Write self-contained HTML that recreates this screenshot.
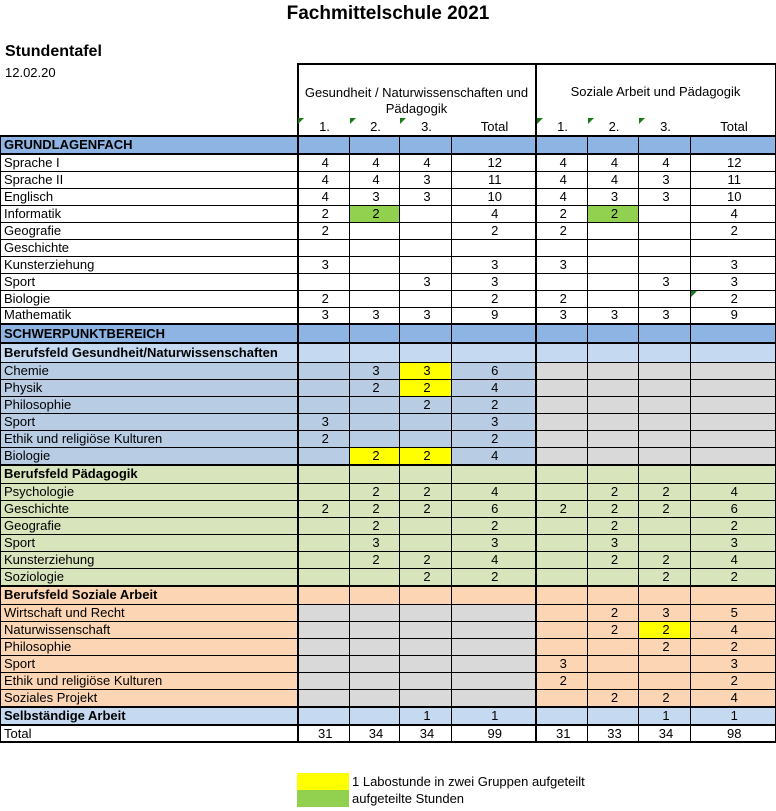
<!DOCTYPE html>
<html><head><meta charset="utf-8">
<style>
body{margin:0;width:776px;height:811px;background:#fff;font-family:"Liberation Sans",Arial,sans-serif;position:relative;overflow:hidden;color:#000}
.abs{position:absolute;white-space:nowrap}
table{position:absolute;left:0;top:63px;border-collapse:collapse;table-layout:fixed;width:775px;font-size:13px}
td{border:1px solid #000;padding:0 0 0 3px;text-align:center;line-height:14px;overflow:hidden;white-space:nowrap}
td.l{text-align:left;border-right:2px solid #000}
td.s{border-right:2px solid #000}
td.e{border-right:2px solid #000}
tr{height:17px}
tr.h td{border-top:2px solid #000;font-weight:bold}
tr.h{height:18px}
.B td{background:#8DB4E2}
.LB td{background:#C5D9F1}
.MB td{background:#B8CCE4}
.GR td{background:#D8E4BC}
.OR td{background:#FCD5B4}
td.g{background:#D9D9D9!important}
td.y{background:#FFFF00!important}
td.gn{background:#92D050!important}
.tri{position:absolute;width:0;height:0;border-top:6px solid #1a7a1a;border right:6px solid transparent;border-right:6px solid transparent}
</style></head><body>
<div class="abs" style="left:0;width:776px;text-align:center;top:3px;font-size:19px;font-weight:bold">Fachmittelschule 2021</div>
<div class="abs" style="left:5px;top:43px;font-size:16px;font-weight:bold">Stundentafel</div>
<div class="abs" style="left:5px;top:65px;font-size:13px">12.02.20</div>
<table>
<colgroup><col style="width:297px"><col style="width:52px"><col style="width:50px"><col style="width:52px"><col style="width:84px"><col style="width:52px"><col style="width:51px"><col style="width:52px"><col style="width:85px"></colgroup>
<tr style="height:72px"><td style="border:none;border-right:2px solid #000"></td>
<td colspan="4" style="border:2px solid #000;border-bottom:none;position:relative;vertical-align:top;padding:0">
<div style="position:absolute;left:0;right:0;top:20px;line-height:16px;text-align:center">Gesundheit / Naturwissenschaften und<br>Pädagogik</div>
<div style="position:absolute;left:0;width:52px;top:55px;text-align:center">1.</div>
<div style="position:absolute;left:52px;width:50px;top:55px;text-align:center">2.</div>
<div style="position:absolute;left:102px;width:52px;top:55px;text-align:center">3.</div>
<div style="position:absolute;left:154px;width:84px;top:55px;text-align:center">Total</div>
</td>
<td colspan="4" style="border:2px solid #000;border-bottom:none;position:relative;vertical-align:top;padding:0">
<div style="position:absolute;left:0;right:0;top:20px;text-align:center">Soziale Arbeit und Pädagogik</div>
<div style="position:absolute;left:0;width:52px;top:55px;text-align:center">1.</div>
<div style="position:absolute;left:52px;width:51px;top:55px;text-align:center">2.</div>
<div style="position:absolute;left:103px;width:52px;top:55px;text-align:center">3.</div>
<div style="position:absolute;left:155px;width:85px;top:55px;text-align:center">Total</div>
</td></tr>
<tr class="h B"><td class="l">GRUNDLAGENFACH</td><td></td><td></td><td></td><td class="s"></td><td></td><td></td><td></td><td class="e"></td></tr>
<tr style="border-top:2px solid #000"><td class="l">Sprache I</td><td>4</td><td>4</td><td>4</td><td class="s">12</td><td>4</td><td>4</td><td>4</td><td class="e">12</td></tr>
<tr><td class="l">Sprache II</td><td>4</td><td>4</td><td>3</td><td class="s">11</td><td>4</td><td>4</td><td>3</td><td class="e">11</td></tr>
<tr><td class="l">Englisch</td><td>4</td><td>3</td><td>3</td><td class="s">10</td><td>4</td><td>3</td><td>3</td><td class="e">10</td></tr>
<tr><td class="l">Informatik</td><td>2</td><td class="gn">2</td><td></td><td class="s">4</td><td>2</td><td class="gn">2</td><td></td><td class="e">4</td></tr>
<tr><td class="l">Geografie</td><td>2</td><td></td><td></td><td class="s">2</td><td>2</td><td></td><td></td><td class="e">2</td></tr>
<tr><td class="l">Geschichte</td><td></td><td></td><td></td><td class="s"></td><td></td><td></td><td></td><td class="e"></td></tr>
<tr><td class="l">Kunsterziehung</td><td>3</td><td></td><td></td><td class="s">3</td><td>3</td><td></td><td></td><td class="e">3</td></tr>
<tr><td class="l">Sport</td><td></td><td></td><td>3</td><td class="s">3</td><td></td><td></td><td>3</td><td class="e">3</td></tr>
<tr><td class="l">Biologie</td><td>2</td><td></td><td></td><td class="s">2</td><td>2</td><td></td><td></td><td class="e">2</td></tr>
<tr><td class="l">Mathematik</td><td>3</td><td>3</td><td>3</td><td class="s">9</td><td>3</td><td>3</td><td>3</td><td class="e">9</td></tr>
<tr class="h B" style="height:19px"><td class="l">SCHWERPUNKTBEREICH</td><td></td><td></td><td></td><td class="s"></td><td></td><td></td><td></td><td class="e"></td></tr>
<tr class="h LB" style="height:19px"><td class="l">Berufsfeld Gesundheit/Naturwissenschaften</td><td></td><td></td><td></td><td class="s"></td><td></td><td></td><td></td><td class="e"></td></tr>
<tr class="MB"><td class="l">Chemie</td><td></td><td>3</td><td class="y">3</td><td class="s">6</td><td class="g"></td><td class="g"></td><td class="g"></td><td class="g e"></td></tr>
<tr class="MB"><td class="l">Physik</td><td></td><td>2</td><td class="y">2</td><td class="s">4</td><td class="g"></td><td class="g"></td><td class="g"></td><td class="g e"></td></tr>
<tr class="MB"><td class="l">Philosophie</td><td></td><td></td><td>2</td><td class="s">2</td><td class="g"></td><td class="g"></td><td class="g"></td><td class="g e"></td></tr>
<tr class="MB"><td class="l">Sport</td><td>3</td><td></td><td></td><td class="s">3</td><td class="g"></td><td class="g"></td><td class="g"></td><td class="g e"></td></tr>
<tr class="MB"><td class="l">Ethik und religiöse Kulturen</td><td>2</td><td></td><td></td><td class="s">2</td><td class="g"></td><td class="g"></td><td class="g"></td><td class="g e"></td></tr>
<tr class="MB" style="height:18px"><td class="l">Biologie</td><td></td><td class="y">2</td><td class="y">2</td><td class="s">4</td><td class="g"></td><td class="g"></td><td class="g"></td><td class="g e"></td></tr>
<tr class="h GR"><td class="l">Berufsfeld Pädagogik</td><td></td><td></td><td></td><td class="s"></td><td></td><td></td><td></td><td class="e"></td></tr>
<tr class="GR"><td class="l">Psychologie</td><td></td><td>2</td><td>2</td><td class="s">4</td><td></td><td>2</td><td>2</td><td class="e">4</td></tr>
<tr class="GR"><td class="l">Geschichte</td><td>2</td><td>2</td><td>2</td><td class="s">6</td><td>2</td><td>2</td><td>2</td><td class="e">6</td></tr>
<tr class="GR"><td class="l">Geografie</td><td></td><td>2</td><td></td><td class="s">2</td><td></td><td>2</td><td></td><td class="e">2</td></tr>
<tr class="GR"><td class="l">Sport</td><td></td><td>3</td><td></td><td class="s">3</td><td></td><td>3</td><td></td><td class="e">3</td></tr>
<tr class="GR"><td class="l">Kunsterziehung</td><td></td><td>2</td><td>2</td><td class="s">4</td><td></td><td>2</td><td>2</td><td class="e">4</td></tr>
<tr class="GR" style="height:18px"><td class="l">Soziologie</td><td></td><td></td><td>2</td><td class="s">2</td><td></td><td></td><td>2</td><td class="e">2</td></tr>
<tr class="h OR"><td class="l">Berufsfeld Soziale Arbeit</td><td></td><td></td><td></td><td class="s"></td><td></td><td></td><td></td><td class="e"></td></tr>
<tr class="OR"><td class="l">Wirtschaft und Recht</td><td class="g"></td><td class="g"></td><td class="g"></td><td class="g s"></td><td></td><td>2</td><td>3</td><td class="e">5</td></tr>
<tr class="OR"><td class="l">Naturwissenschaft</td><td class="g"></td><td class="g"></td><td class="g"></td><td class="g s"></td><td></td><td>2</td><td class="y">2</td><td class="e">4</td></tr>
<tr class="OR"><td class="l">Philosophie</td><td class="g"></td><td class="g"></td><td class="g"></td><td class="g s"></td><td></td><td></td><td>2</td><td class="e">2</td></tr>
<tr class="OR"><td class="l">Sport</td><td class="g"></td><td class="g"></td><td class="g"></td><td class="g s"></td><td>3</td><td></td><td></td><td class="e">3</td></tr>
<tr class="OR"><td class="l">Ethik und religiöse Kulturen</td><td class="g"></td><td class="g"></td><td class="g"></td><td class="g s"></td><td>2</td><td></td><td></td><td class="e">2</td></tr>
<tr class="OR" style="height:18px"><td class="l">Soziales Projekt</td><td class="g"></td><td class="g"></td><td class="g"></td><td class="g s"></td><td></td><td>2</td><td>2</td><td class="e">4</td></tr>
<tr class="h LB"><td class="l">Selbständige Arbeit</td><td style="font-weight:normal"></td><td></td><td style="font-weight:normal">1</td><td class="s" style="font-weight:normal">1</td><td></td><td></td><td style="font-weight:normal">1</td><td class="e" style="font-weight:normal">1</td></tr>
<tr style="border-top:2px solid #000;border-bottom:2px solid #000"><td class="l">Total</td><td>31</td><td>34</td><td>34</td><td class="s">99</td><td>31</td><td>33</td><td>34</td><td class="e">98</td></tr>
</table>
<div class="tri" style="left:298px;top:118px"></div>
<div class="tri" style="left:350px;top:118px"></div>
<div class="tri" style="left:400px;top:118px"></div>
<div class="tri" style="left:537px;top:118px"></div>
<div class="tri" style="left:588px;top:118px"></div>
<div class="tri" style="left:639px;top:118px"></div>
<div class="tri" style="left:691px;top:291px"></div>
<div class="abs" style="left:297px;top:773px;width:52px;height:17px;background:#FFFF00"></div>
<div class="abs" style="left:297px;top:790px;width:52px;height:17px;background:#92D050"></div>
<div class="abs" style="left:352px;top:774px;font-size:13px">1 Labostunde in zwei Gruppen aufgeteilt</div>
<div class="abs" style="left:352px;top:791px;font-size:13px">aufgeteilte Stunden</div>
</body></html>
